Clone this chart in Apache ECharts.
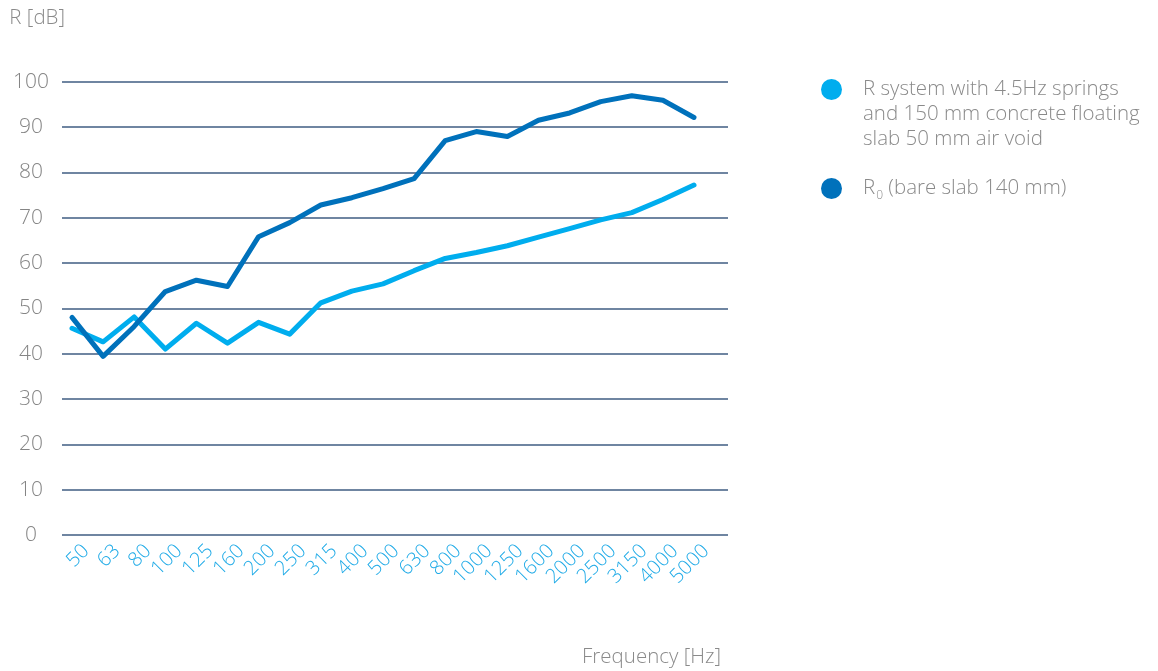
<!DOCTYPE html>
<html>
<head>
<meta charset="utf-8">
<script src="https://cdn.jsdelivr.net/npm/echarts@6/dist/echarts.min.js"></script>
<style>
html,body{margin:0;padding:0;background:#fff;}
#chart{width:1158px;height:671px;}
</style>
</head>
<body>
<div id="chart"></div>
<script>
// Frequency bands (Hz)
const frequencies = ['50','63','80','100','125','160','200','250','315','400','500','630','800','1000','1250','1600','2000','2500','3150','4000','5000'];
// R system with 4.5Hz springs and 150 mm concrete floating slab 50 mm air void [dB]
const rSystem = [45.6, 42.6, 48.1, 41.0, 46.7, 42.3, 46.9, 44.3, 51.2, 53.8, 55.4, 58.3, 61.0, 62.3, 63.8, 65.7, 67.6, 69.5, 71.1, 74.0, 77.2];
// R0 bare slab 140 mm [dB]
const rBare = [48.0, 39.4, 46.0, 53.7, 56.2, 54.8, 65.8, 68.9, 72.8, 74.4, 76.4, 78.6, 87.0, 89.0, 87.9, 91.5, 93.1, 95.6, 96.9, 95.9, 92.1];
// y axis ticks
const yMin = 0, yMax = 100, yStep = 10;

const nameSystem = 'R system with 4.5Hz springs\nand 150 mm concrete floating\nslab 50 mm air void';
const nameBare = 'R0 (bare slab 140 mm)';
const colLight = '#00adee';
const colDark = '#0071bb';
const font = 'Open Sans';
const fw = 300;
const grey = '#8a8a8a';
const fsText = 20.5;

const chart = echarts.init(document.getElementById('chart'), null, {renderer: 'canvas'});
chart.setOption({
  animation: false,
  backgroundColor: '#ffffff',
  textStyle: {fontFamily: font, fontWeight: fw},
  title: {
    text: 'Frequency [Hz]',
    right: 437,
    top: 647,
    padding: 0,
    textStyle: {fontFamily: font, fontWeight: fw, fontSize: fsText, color: grey}
  },
  grid: [
    {left: 62, right: 430, top: 81.7, bottom: 136.1},
    {left: 86, right: 452, top: 81.7, bottom: 136.1}
  ],
  xAxis: [
    {
      type: 'value', gridIndex: 0,
      min: -10 / 31.1, max: 656 / 31.1,
      show: false
    },
    {
      type: 'category', gridIndex: 1, data: frequencies, boundaryGap: false,
      axisLine: {show: false}, axisTick: {show: false}, splitLine: {show: false},
      axisLabel: {rotate: 45, margin: 13, color: '#1eaae7', fontSize: 20, fontFamily: font, fontWeight: fw, interval: 0}
    }
  ],
  yAxis: [
    {
      type: 'value', gridIndex: 0, min: yMin, max: yMax, interval: yStep,
      name: 'R [dB]', nameLocation: 'end', nameGap: 53,
      nameTextStyle: {color: grey, fontSize: fsText, fontFamily: font, fontWeight: fw, align: 'right', padding: [0, 7, 0, 0]},
      axisLine: {show: false}, axisTick: {show: false},
      axisLabel: {color: '#858585', fontSize: 21, fontFamily: font, fontWeight: fw, align: 'center', margin: 31},
      splitLine: {lineStyle: {color: '#3f5d82', width: 1.5}}
    },
    {
      type: 'value', gridIndex: 1, min: yMin, max: yMax, show: false
    }
  ],
  legend: [
    {
      data: [{name: nameSystem, icon: 'circle'}],
      orient: 'vertical', left: 821, top: 27, padding: 0,
      itemWidth: 21, itemHeight: 21,
      formatter: function (n) { return '\n\n' + n; },
      textStyle: {fontFamily: font, fontWeight: fw, fontSize: fsText, color: grey, lineHeight: 25, padding: [0, 0, 0, 16]}
    },
    {
      data: [{name: nameBare, icon: 'circle'}],
      orient: 'vertical', left: 821, top: 178, padding: 0,
      itemWidth: 21, itemHeight: 21,
      formatter: function () { return '{b|R}{s|0}{b| (bare slab 140 mm)}'; },
      textStyle: {
        fontFamily: font, fontWeight: fw, fontSize: fsText, color: grey, padding: [0, 0, 0, 16],
        rich: {
          b: {fontFamily: font, fontWeight: fw, fontSize: fsText, color: grey},
          s: {fontFamily: font, fontWeight: fw, fontSize: 12, color: grey, padding: [14, 0, 0, 1]}
        }
      }
    }
  ],
  series: [
    {
      name: nameSystem, type: 'line', xAxisIndex: 0, yAxisIndex: 0,
      data: rSystem.map((v, i) => [i, v]),
      showSymbol: false, symbol: 'none', z: 3,
      itemStyle: {color: colLight},
      lineStyle: {color: colLight, width: 5, cap: 'round', join: 'round'}
    },
    {
      name: nameBare, type: 'line', xAxisIndex: 0, yAxisIndex: 0,
      data: rBare.map((v, i) => [i, v]),
      showSymbol: false, symbol: 'none', z: 4,
      itemStyle: {color: colDark},
      lineStyle: {color: colDark, width: 5, cap: 'round', join: 'round'}
    }
  ]
});
</script>
</body>
</html>
